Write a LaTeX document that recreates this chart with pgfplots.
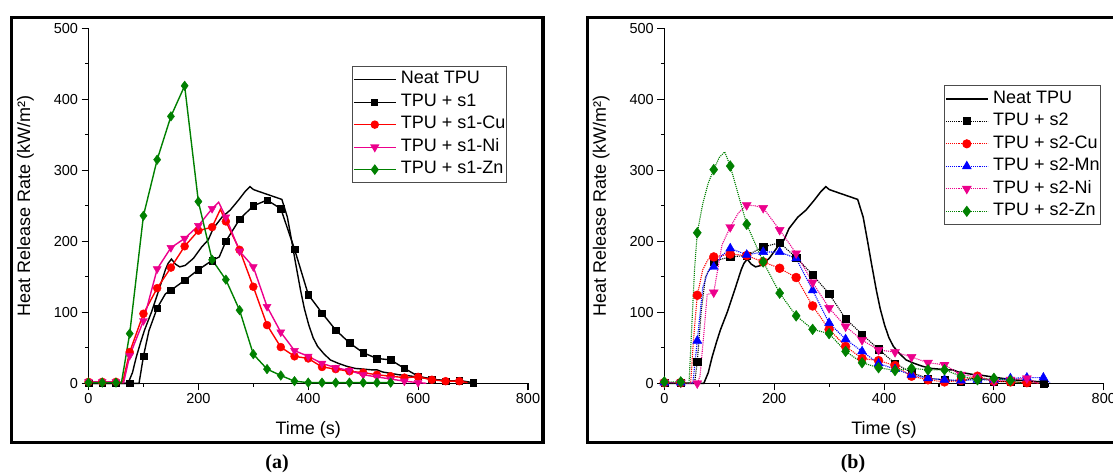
\documentclass[border=0pt]{standalone}
\usepackage{fontspec}
\setmainfont{Liberation Sans}
\newfontfamily\capfont{Liberation Serif}
\usepackage{pgfplots}
\usepackage{pgfplotstable}
\pgfplotsset{compat=1.18}
\definecolor{ogreen}{RGB}{0,128,0}

% Neat TPU, same curve in both panels
\pgfplotstableread{
t v
0 0
60 0
72 0
80 15
87 37
95 58
102 75
115 101
130 136
140 160
145 169
151 175
158 168
166 164
176 166
191 176
206 192
218 202
227 218
243 234
258 244
273 258
285 270
294 277
300 273
307 271
322 267
337 263
352 259
362 234
370 200
377 169
386 131
393 105
401 82
409 64
417 52
428 42
440 33
455 28
470 24
485 21
500 20
515 19
525 19
535 16
550 14
565 12
580 11
597 9
615 7
635 5
650 4
670 3
685 2
692 0
}\neat

% panel (a): m=1 where a marker is drawn
\pgfplotstableread{
t v m
0 0 1
25 0 1
50 0 1
75 0 1
92 0 0
100 38 1
110 74 0
125 106 1
140 126 0
150 131 1
175 145 1
200 160 1
225 173 1
238 178 0
250 200 1
275 231 1
300 250 1
325 258 1
350 246 1
375 189 1
400 125 1
425 99 1
450 75 1
475 57 1
500 43 1
525 35 1
550 33 1
575 21 1
600 10 1
625 6 1
650 3 1
675 4 1
700 1 1
}\sone

\pgfplotstableread{
t v m
0 2 1
25 2 1
50 2 1
62 1 0
75 44 1
100 98 1
125 134 1
150 163 1
175 193 1
200 215 1
225 220 1
240 245 0
250 228 1
275 188 1
300 136 1
325 82 1
350 51 1
375 38 1
400 35 1
425 23 1
450 20 1
475 17 1
500 15 1
525 12 1
550 10 1
575 8 1
600 9 1
625 5 1
650 3 1
675 3 1
690 1 0
}\sonecu

\pgfplotstableread{
t v m
0 2 1
25 2 1
50 2 1
64 1 0
75 39 1
100 88 1
125 161 1
150 191 1
175 204 1
200 222 1
225 246 1
237 255 0
250 234 1
275 186 1
300 164 1
325 108 1
350 72 1
375 46 1
400 38 1
425 28 1
450 22 1
475 18 1
500 12 1
525 9 1
550 6 1
575 3 1
600 1 1
615 0 0
}\soneni

\pgfplotstableread{
t v m
0 1 1
25 1 1
50 1 1
60 1 0
75 70 1
100 236 1
125 315 1
150 376 1
175 419 1
200 256 1
225 174 1
250 146 1
275 103 1
300 41 1
325 20 1
350 11 1
375 3 1
400 1 1
425 1 1
450 1 1
475 1 1
500 1 1
525 1 1
550 1 1
}\sonezn

% panel (b)
\pgfplotstableread{
t v m
0 1 1
30 1 1
55 0 0
60 30 1
67 100 0
75 150 0
90 172 1
120 178 1
150 180 1
180 192 1
210 198 1
240 177 1
270 153 1
300 126 1
330 91 1
360 69 1
390 48 1
420 28 1
450 15 1
480 7 1
510 5 1
540 3 1
570 8 1
600 3 1
630 2 1
660 1 1
690 0 1
}\stwo

\pgfplotstableread{
t v m
0 1 1
30 1 1
48 0 0
53 60 0
60 124 1
70 160 0
80 175 0
90 178 1
120 182 1
150 180 1
180 171 1
210 162 1
240 149 1
270 109 1
300 76 1
330 52 1
360 35 1
390 32 1
420 25 1
450 10 1
480 5 1
510 2 1
540 4 1
570 10 1
600 3 1
630 2 1
660 1 1
690 0 0
}\stwocu

\pgfplotstableread{
t v m
0 1 1
30 1 1
52 0 0
60 60 1
70 135 0
80 158 0
90 164 1
105 180 0
120 190 1
150 181 1
180 185 1
210 185 1
240 176 1
270 131 1
300 85 1
330 62 1
360 45 1
390 28 1
420 20 1
450 12 1
480 7 1
510 5 1
540 4 1
570 5 1
600 5 1
630 7 1
660 8 1
690 8 1
702 1 0
}\stwomn

\pgfplotstableread{
t v m
0 1 1
30 1 1
60 0 1
65 10 0
72 70 0
78 125 0
90 128 1
105 195 0
120 220 1
135 240 0
150 251 1
165 250 0
180 247 1
210 216 1
240 183 1
270 142 1
300 106 1
330 80 1
360 61 1
390 47 1
420 44 1
450 37 1
480 29 1
510 26 1
540 12 1
570 9 1
600 3 1
630 5 1
660 7 1
680 0 0
}\stwoni

\pgfplotstableread{
t v m
0 2 1
30 2 1
45 0 0
50 80 0
55 160 0
60 212 1
70 253 0
80 282 0
90 301 1
100 318 0
110 326 0
120 306 1
150 224 1
180 171 1
210 127 1
240 95 1
270 76 1
300 70 1
330 45 1
360 29 1
390 22 1
420 18 1
450 21 1
480 19 1
510 19 1
540 10 1
570 5 1
600 7 1
630 4 1
650 0 0
}\stwozn

\pgfplotsset{
  hrr/.style={
    scale only axis, width=439.5pt, height=355pt,
    xmin=0, xmax=800, ymin=0, ymax=500,
    xtick={0,200,...,800}, ytick={0,100,...,500},
    minor x tick num=1, minor y tick num=1,
    axis x line=bottom, axis y line=left,
    axis line style={-, line width=1.1pt},
    tick align=outside, major tick length=7pt, minor tick length=3.5pt,
    every tick/.style={black, line width=1.1pt},
    tick label style={font=\fontsize{14.5}{16}\selectfont},
    /pgf/number format/assume math mode=true,
    label style={font=\fontsize{18}{20}\selectfont},
    xlabel={Time (s)}, ylabel={Heat Release Rate (kW/m²)},
    x label style={at={(axis description cs:0.5,-0.130)}, anchor=center, inner sep=0pt},
    y label style={at={(axis description cs:-0.1433,0.5)}, anchor=center, inner sep=0pt},
    clip=false,
    unbounded coords=discard,
    legend cell align=left,
    legend image code/.code={\draw[mark repeat=2,mark phase=2,##1] plot coordinates {(1pt,0pt) (22pt,0pt) (43pt,0pt)};
      \path (47.5pt,0pt);},
    legend style={draw=black!70, line width=0.9pt, fill=white,
      font=\fontsize{18}{20}\selectfont, inner xsep=1pt, inner ysep=2pt,
      row sep=0pt, nodes={inner sep=0pt, text height=15.5pt, text depth=7pt}},
  },
  mk/.style={only marks, forget plot, restrict expr to domain={\thisrow{m}}{1:1}},
}

\begin{document}
\begin{tikzpicture}
\useasboundingbox (0pt,0pt) rectangle (1113pt,475pt);
\draw[line width=3.3pt] (11.7pt,32.7pt) rectangle (543pt,457.3pt);
\draw[line width=3.3pt] (587.7pt,32.7pt) rectangle (1125pt,457.3pt);
\node[font=\capfont\bfseries\fontsize{20}{22}\selectfont] at (277pt,11.7pt) {(a)};
\node[font=\capfont\bfseries\fontsize{20}{22}\selectfont] at (853pt,11.7pt) {(b)};

\begin{axis}[hrr, at={(88.5pt,91.7pt)}, anchor=south west,
  legend style={at={(0.599,0.894)}, anchor=north west}]
\addplot[black, line width=1.4pt, forget plot] table[x=t,y=v] {\neat};
\addplot[black, line width=1.4pt, forget plot] table[x=t,y=v] {\sone};
\addplot[black, mk, mark=square*, mark size=3.3pt] table[x=t,y=v] {\sone};
\addplot[red, line width=1.4pt, forget plot] table[x=t,y=v] {\sonecu};
\addplot[red, mk, mark=*, mark size=4pt] table[x=t,y=v] {\sonecu};
\addplot[magenta, line width=1.4pt, forget plot] table[x=t,y=v] {\soneni};
\addplot[magenta, mk, mark=triangle*, mark size=4.6pt, mark options={rotate=180}] table[x=t,y=v] {\soneni};
\addplot[ogreen, line width=1.4pt, forget plot] table[x=t,y=v] {\sonezn};
\addplot[ogreen, mk, mark=diamond*, mark size=4.8pt] table[x=t,y=v] {\sonezn};
\addlegendimage{black, line width=1.2pt}
\addlegendentry{Neat TPU}
\addlegendimage{black, line width=1.2pt, mark=square*, mark size=3pt}
\addlegendentry{TPU + s1}
\addlegendimage{red, line width=1.2pt, mark=*, mark size=3.6pt}
\addlegendentry{TPU + s1-Cu}
\addlegendimage{magenta, line width=1.2pt, mark=triangle*, mark size=4.2pt, mark options={rotate=180}}
\addlegendentry{TPU + s1-Ni}
\addlegendimage{ogreen, line width=1.2pt, mark=diamond*, mark size=4.4pt}
\addlegendentry{TPU + s1-Zn}
\end{axis}

\begin{axis}[hrr, at={(664.3pt,91.7pt)}, anchor=south west,
  legend style={at={(0.6355,0.840)}, anchor=north west}]
\addplot[black, line width=1.5pt, forget plot] table[x=t,y=v] {\neat};
\addplot[black, line width=1.1pt, densely dotted, forget plot] table[x=t,y=v] {\stwo};
\addplot[black, mk, mark=square*, mark size=3.6pt, mark options={solid}] table[x=t,y=v] {\stwo};
\addplot[red, line width=1.1pt, densely dotted, forget plot] table[x=t,y=v] {\stwocu};
\addplot[red, mk, mark=*, mark size=4.5pt, mark options={solid}] table[x=t,y=v] {\stwocu};
\addplot[blue, line width=1.1pt, densely dotted, forget plot] table[x=t,y=v] {\stwomn};
\addplot[blue, mk, mark=triangle*, mark size=5.2pt, mark options={solid}] table[x=t,y=v] {\stwomn};
\addplot[magenta, line width=1.1pt, densely dotted, forget plot] table[x=t,y=v] {\stwoni};
\addplot[magenta, mk, mark=triangle*, mark size=5.2pt, mark options={solid, rotate=180}] table[x=t,y=v] {\stwoni};
\addplot[ogreen, line width=1.1pt, densely dotted, forget plot] table[x=t,y=v] {\stwozn};
\addplot[ogreen, mk, mark=diamond*, mark size=5.4pt, mark options={solid}] table[x=t,y=v] {\stwozn};
\addlegendimage{black, line width=1.5pt}
\addlegendentry{Neat TPU}
\addlegendimage{black, line width=1.1pt, densely dotted, mark=square*, mark size=3.4pt, mark options={solid}}
\addlegendentry{TPU + s2}
\addlegendimage{red, line width=1.1pt, densely dotted, mark=*, mark size=4pt, mark options={solid}}
\addlegendentry{TPU + s2-Cu}
\addlegendimage{blue, line width=1.1pt, densely dotted, mark=triangle*, mark size=4.6pt, mark options={solid}}
\addlegendentry{TPU + s2-Mn}
\addlegendimage{magenta, line width=1.1pt, densely dotted, mark=triangle*, mark size=4.6pt, mark options={solid, rotate=180}}
\addlegendentry{TPU + s2-Ni}
\addlegendimage{ogreen, line width=1.1pt, densely dotted, mark=diamond*, mark size=4.8pt, mark options={solid}}
\addlegendentry{TPU + s2-Zn}
\end{axis}
\end{tikzpicture}
\end{document}
